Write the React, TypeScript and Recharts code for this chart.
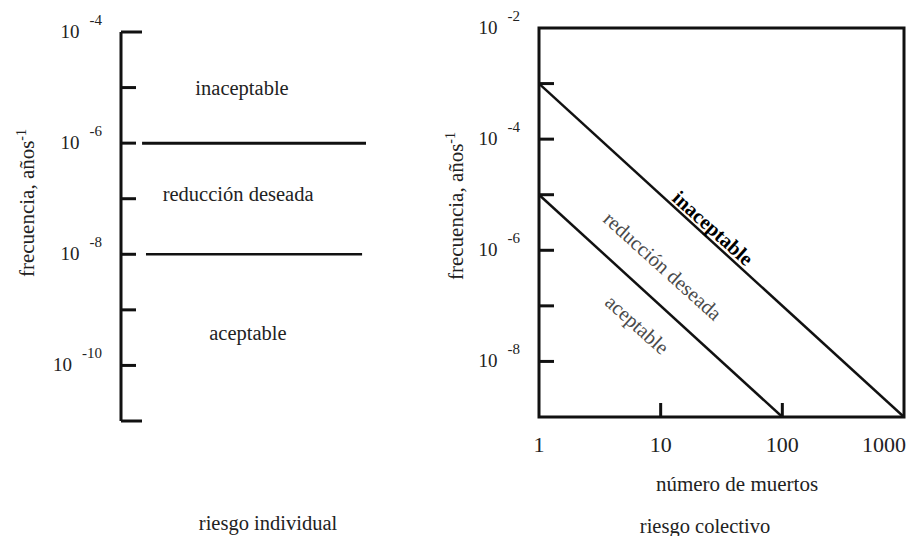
import React from "react";
import { ComposedChart, Line, XAxis, YAxis, ReferenceDot, ReferenceArea } from "recharts";

const FONT = '"Liberation Serif", "Times New Roman", Times, serif';
const INK = "#111";

// riesgo individual: frecuencia (años^-1), una marca por década
const individualTicks = [1e-4, 1e-5, 1e-6, 1e-7, 1e-8, 1e-9, 1e-10, 1e-11];
const individualLimitHigh = [{ x: 8.6, f: 1e-6 }, { x: 100, f: 1e-6 }];
const individualLimitLow = [{ x: 10.2, f: 1e-8 }, { x: 98.4, f: 1e-8 }];
const individualZones = [
  { text: "inaceptable", x: 49.4, f: 1e-5 },
  { text: "reducción deseada", x: 47.8, f: 1.2e-7 },
  { text: "aceptable", x: 51.8, f: 3.9e-10 },
];

// riesgo colectivo: curva F-N
const collectiveTicks = [1e-2, 1e-3, 1e-4, 1e-5, 1e-6, 1e-7, 1e-8, 1e-9];
const deathTicks = [1, 10, 100, 1000];
const upperLimit = [{ n: 1, f: 1e-3 }, { n: 1000, f: 1e-9 }];
const lowerLimit = [{ n: 1, f: 1e-5 }, { n: 100, f: 1e-9 }];
const collectiveZones = [
  { text: "inaceptable", n: 26.9, f: 2.5e-6, color: "#000", weight: 700 },
  { text: "reducción deseada", n: 10.4, f: 5.2e-7, color: "#4a4a4a", weight: 400 },
  { text: "aceptable", n: 6.4, f: 4.6e-8, color: "#4a4a4a", weight: 400 },
];

function DecadeTick(props: any) {
  const { y, payload, axisX, longAt = [], skip = [] } = props;
  const exp = Math.round(Math.log10(payload.value));
  const len = longAt.includes(exp) ? 21 : 15;
  return (
    <g>
      {!skip.includes(exp) && (
        <line x1={axisX} x2={axisX + len} y1={y} y2={y} stroke={INK} strokeWidth={3} />
      )}
      {exp % 2 === 0 && (
        <text x={axisX - 19} y={y + 6} textAnchor="end" fontFamily={FONT} fontSize={19} fill="#222">
          <tspan>10</tspan>
          <tspan dx={10} dy={-13} fontSize={15}>{String(exp)}</tspan>
        </text>
      )}
    </g>
  );
}

function DeathTick(props: any) {
  const { x, payload, axisY } = props;
  const v = payload.value;
  const first = deathTicks[0];
  const last = deathTicks[deathTicks.length - 1];
  const isLast = v === last;
  return (
    <g>
      {v !== first && !isLast && (
        <line x1={x} x2={x} y1={axisY} y2={axisY - 14} stroke={INK} strokeWidth={3} />
      )}
      <text
        x={isLast ? x + 2 : x}
        y={axisY + 35}
        textAnchor={isLast ? "end" : "middle"}
        fontFamily={FONT}
        fontSize={22}
        fill="#222"
      >
        {v}
      </text>
    </g>
  );
}

function ZoneLabel(props: any) {
  const { viewBox, caption, tilt = 0, color = "#222", weight = 400 } = props;
  const cx = viewBox.x + viewBox.width / 2;
  const cy = viewBox.y + viewBox.height / 2;
  return (
    <text
      x={cx}
      y={cy}
      textAnchor="middle"
      dominantBaseline="central"
      transform={tilt ? `rotate(${tilt} ${cx} ${cy})` : undefined}
      fontFamily={FONT}
      fontSize={20.5}
      fontWeight={weight}
      fill={color}
    >
      {caption}
    </text>
  );
}

function Caption({ x, y, rotate = 0, size = 20.5, children }: any) {
  return (
    <div
      style={{
        position: "absolute",
        left: x,
        top: y,
        transform: `translate(-50%, -50%) rotate(${rotate}deg)`,
        whiteSpace: "nowrap",
        fontFamily: FONT,
        fontSize: size,
        color: "#222",
        lineHeight: 1,
      }}
    >
      {children}
    </div>
  );
}

function FreqTitle() {
  return (
    <span>
      frecuencia, años<sup style={{ fontSize: 14 }}>-1</sup>
    </span>
  );
}

export default function App() {
  return (
    <div style={{ position: "absolute", left: 0, top: 0, width: 912, height: 536, background: "#fff" }}>
      <div style={{ position: "absolute", left: 0, top: 0 }}>
        <ComposedChart width={400} height={460} margin={{ top: 32, right: 34, bottom: 39, left: 0 }}>
          <XAxis dataKey="x" type="number" domain={[0, 100]} hide allowDataOverflow />
          <YAxis
            type="number"
            scale="log"
            domain={[1e-11, 1e-4]}
            allowDataOverflow
            ticks={individualTicks}
            interval={0}
            width={121}
            tickLine={false}
            axisLine={{ stroke: INK, strokeWidth: 3 }}
            tick={<DecadeTick axisX={121} longAt={[-4, -11]} />}
          />
          <Line data={individualLimitHigh} dataKey="f" stroke={INK} strokeWidth={3} dot={false} isAnimationActive={false} />
          <Line data={individualLimitLow} dataKey="f" stroke={INK} strokeWidth={2.5} dot={false} isAnimationActive={false} />
          {individualZones.map((z) => (
            <ReferenceDot
              key={z.text}
              x={z.x}
              y={z.f}
              r={1}
              fill="none"
              stroke="none"
              label={<ZoneLabel caption={z.text} />}
            />
          ))}
        </ComposedChart>
      </div>

      <div style={{ position: "absolute", left: 440, top: 0 }}>
        <ComposedChart width={472} height={460} margin={{ top: 28, right: 8, bottom: 3, left: 0 }}>
          <XAxis
            dataKey="n"
            type="number"
            scale="log"
            domain={[1, 1000]}
            allowDataOverflow
            ticks={deathTicks}
            interval={0}
            height={40}
            axisLine={false}
            tickLine={false}
            tick={<DeathTick axisY={417} />}
          />
          <YAxis
            type="number"
            scale="log"
            domain={[1e-9, 1e-2]}
            allowDataOverflow
            ticks={collectiveTicks}
            interval={0}
            width={99}
            axisLine={false}
            tickLine={false}
            tick={<DecadeTick axisX={99} skip={[-2, -9]} />}
          />
          <ReferenceArea x1={1} x2={1000} y1={1e-9} y2={1e-2} fill="none" stroke={INK} strokeWidth={3} />
          <Line data={upperLimit} dataKey="f" stroke={INK} strokeWidth={2.5} dot={false} isAnimationActive={false} />
          <Line data={lowerLimit} dataKey="f" stroke={INK} strokeWidth={2.5} dot={false} isAnimationActive={false} />
          {collectiveZones.map((z) => (
            <ReferenceDot
              key={z.text}
              x={z.n}
              y={z.f}
              r={1}
              fill="none"
              stroke="none"
              label={<ZoneLabel caption={z.text} tilt={42} color={z.color} weight={z.weight} />}
            />
          ))}
        </ComposedChart>
      </div>

      <Caption x={26} y={203} rotate={-90} size={21}>
        <FreqTitle />
      </Caption>
      <Caption x={455} y={206} rotate={-90} size={21}>
        <FreqTitle />
      </Caption>
      <Caption x={737} y={484} size={21}>número de muertos</Caption>
      <Caption x={268} y={523}>riesgo individual</Caption>
      <Caption x={705} y={526}>riesgo colectivo</Caption>
    </div>
  );
}
